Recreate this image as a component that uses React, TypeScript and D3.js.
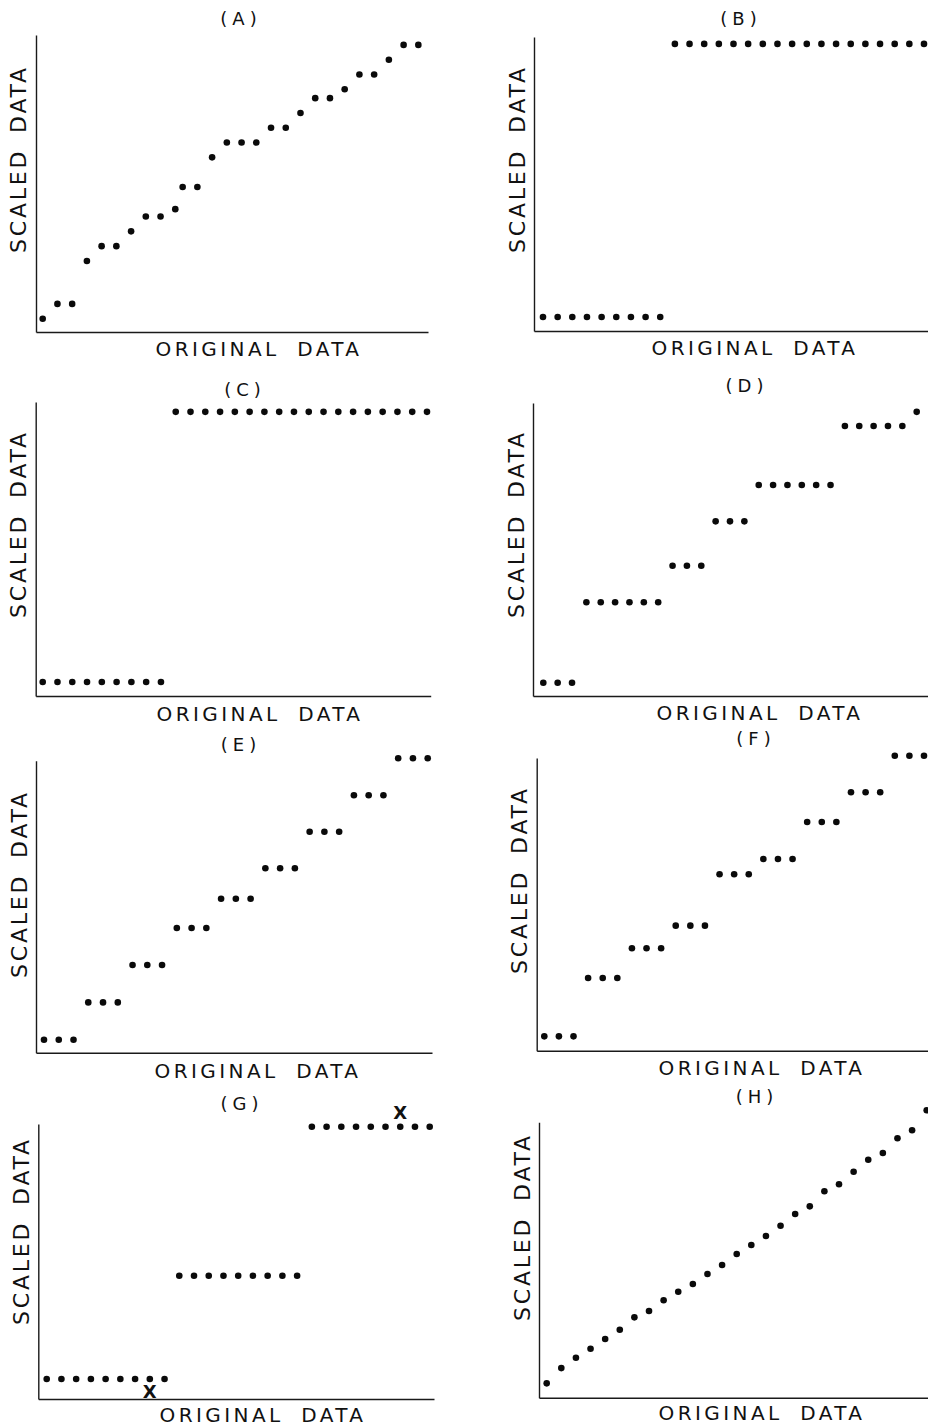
import { useEffect, useRef } from "react";
import * as d3 from "d3";

// original data rank (x) for panels B..H, and the slightly shifted ranks of panel A
const rank = [0, 1, 2, 3, 4, 5, 6, 7, 8, 9, 10, 11, 12, 13, 14, 15, 16, 17, 18, 19, 20, 21, 22, 23, 24, 25, 26];
const rankA = [0, 1, 2, 3, 4, 5, 6, 7, 8, 9, 9.5, 10.5, 11.5, 12.5, 13.5, 14.5, 15.5, 16.5, 17.5, 18.5, 19.5, 20.5, 21.5, 22.5, 23.5, 24.5, 25.5];

// scaled data (y)
const scaledA = [0.9, 1.9, 1.9, 4.8, 5.8, 5.8, 6.8, 7.8, 7.8, 8.3, 9.8, 9.8, 11.8, 12.8, 12.8, 12.8, 13.8, 13.8, 14.8, 15.8, 15.8, 16.4, 17.4, 17.4, 18.4, 19.4, 19.4];
const scaledB = [0.95, 0.95, 0.95, 0.95, 0.95, 0.95, 0.95, 0.95, 0.95, 19.4, 19.4, 19.4, 19.4, 19.4, 19.4, 19.4, 19.4, 19.4, 19.4, 19.4, 19.4, 19.4, 19.4, 19.4, 19.4, 19.4, 19.4];
const scaledC = [0.95, 0.95, 0.95, 0.95, 0.95, 0.95, 0.95, 0.95, 0.95, 19.2, 19.2, 19.2, 19.2, 19.2, 19.2, 19.2, 19.2, 19.2, 19.2, 19.2, 19.2, 19.2, 19.2, 19.2, 19.2, 19.2, 19.2];
const scaledD = [0.9, 0.9, 0.9, 6.33, 6.33, 6.33, 6.33, 6.33, 6.33, 8.8, 8.8, 8.8, 11.8, 11.8, 11.8, 14.26, 14.26, 14.26, 14.26, 14.26, 14.26, 18.24, 18.24, 18.24, 18.24, 18.24, 19.2];
const scaledE = [0.88, 0.88, 0.88, 3.4, 3.4, 3.4, 5.93, 5.93, 5.93, 8.43, 8.43, 8.43, 10.4, 10.4, 10.4, 12.46, 12.46, 12.46, 14.93, 14.93, 14.93, 17.4, 17.4, 17.4, 19.9, 19.9, 19.9];
const scaledF = [0.97, 0.97, 0.97, 4.91, 4.91, 4.91, 6.92, 6.92, 6.92, 8.45, 8.45, 8.45, 11.92, 11.92, 11.92, 12.95, 12.95, 12.95, 15.45, 15.45, 15.45, 17.46, 17.46, 17.46, 19.93, 19.93, 19.93];
const scaledG = [1.35, 1.35, 1.35, 1.35, 1.35, 1.35, 1.35, 1.35, 1.35, 8.33, 8.33, 8.33, 8.33, 8.33, 8.33, 8.33, 8.33, 8.33, 18.4, 18.4, 18.4, 18.4, 18.4, 18.4, 18.4, 18.4, 18.4];
const scaledH = [0.97, 2.0, 2.7, 3.31, 3.97, 4.59, 5.43, 5.86, 6.58, 7.16, 7.68, 8.36, 8.97, 9.71, 10.32, 10.93, 11.62, 12.41, 12.93, 13.95, 14.42, 15.27, 16.08, 16.53, 17.53, 18.07, 19.42];

// panel G: points flagged with an "X"
const markedG = [7, 24];
const markSideG = ["below", "above"];

const panelTitles = ["(A)", "(B)", "(C)", "(D)", "(E)", "(F)", "(G)", "(H)"];
const xTitle = "ORIGINAL DATA";
const yTitle = "SCALED DATA";

const W = 928;
const H = 1428;
const UNIT = 14.8; // px per scaled-data unit
const FONT = "'DejaVu Sans', Verdana, sans-serif";

// layout of each panel (pixel positions only)
const layouts = [
    { left: 36, top: 35, bottom: 332, right: 428, x0: 42.7, x1: 425.7, tx: 239, ty: 25, lx: 257, ly: 356, yx: 18, yy: 159 },
    { left: 534, top: 37, bottom: 331, right: 930, x0: 543, x1: 924, tx: 739, ty: 25, lx: 753, ly: 355, yx: 517, yy: 159 },
    { left: 35.7, top: 402, bottom: 696, right: 430.7, x0: 42.7, x1: 427, tx: 243, ty: 396, lx: 258, ly: 721, yx: 18, yy: 524 },
    { left: 533, top: 403, bottom: 696, right: 930, x0: 543.3, x1: 916.7, tx: 745, ty: 392, lx: 758, ly: 720, yx: 516, yy: 524 },
    { left: 36, top: 760.7, bottom: 1052.7, right: 432, x0: 44, x1: 427.7, tx: 239, ty: 751, lx: 256, ly: 1078, yx: 19, yy: 884 },
    { left: 536.7, top: 758, bottom: 1050.7, right: 930, x0: 544.3, x1: 924, tx: 754, ty: 745, lx: 760, ly: 1075, yx: 519, yy: 880 },
    { left: 38.3, top: 1124, bottom: 1399, right: 434, x0: 46.7, x1: 429.7, tx: 240, ty: 1110, lx: 261, ly: 1422, yx: 21, yy: 1231 },
    { left: 539, top: 1122.3, bottom: 1397.7, right: 930, x0: 546.7, x1: 926.7, tx: 755, ty: 1103, lx: 760, ly: 1420, yx: 522, yy: 1227 },
];

const series = [
    { x: rankA, y: scaledA },
    { x: rank, y: scaledB },
    { x: rank, y: scaledC },
    { x: rank, y: scaledD },
    { x: rank, y: scaledE },
    { x: rank, y: scaledF },
    { x: rank, y: scaledG },
    { x: rank, y: scaledH },
];

export default function App() {
    const svgRef = useRef<SVGSVGElement>(null);

    useEffect(() => {
        const svg = d3.select(svgRef.current);
        svg.selectAll("*").remove();

        svg.append("rect").attr("width", W).attr("height", H).attr("fill", "#ffffff");

        layouts.forEach((lay, p) => {
            const g = svg.append("g").attr("class", "panel");
            const { x, y } = series[p];

            const xScale = d3.scaleLinear().domain([0, 26]).range([lay.x0, lay.x1]);
            const yScale = d3.scaleLinear().domain([0, 20]).range([lay.bottom, lay.bottom - 20 * UNIT]);

            // axis frames (no ticks in the original)
            const xFrame = d3.scaleLinear().domain([0, 1]).range([lay.left, lay.right]);
            const yFrame = d3.scaleLinear().domain([0, 1]).range([lay.bottom, lay.top]);

            g.append("g")
                .attr("transform", `translate(0,${lay.bottom})`)
                .call(d3.axisBottom(xFrame).tickValues([]).tickSizeOuter(0))
                .select(".domain")
                .attr("stroke", "#1a1a1a")
                .attr("stroke-width", 1.6);

            g.append("g")
                .attr("transform", `translate(${lay.left},0)`)
                .call(d3.axisLeft(yFrame).tickValues([]).tickSizeOuter(0))
                .select(".domain")
                .attr("stroke", "#1a1a1a")
                .attr("stroke-width", 1.4);

            g.selectAll(".dot")
                .data(y)
                .join("circle")
                .attr("class", "dot")
                .attr("cx", (d, i) => xScale(x[i]))
                .attr("cy", (d) => yScale(d))
                .attr("r", 3.3)
                .attr("fill", "#0a0a0a");

            // titles
            g.append("text")
                .attr("x", lay.tx + 2)
                .attr("y", lay.ty)
                .attr("text-anchor", "middle")
                .style("font-family", FONT)
                .style("font-size", "18px")
                .style("letter-spacing", "5px")
                .attr("fill", "#111")
                .text(panelTitles[p]);

            g.append("text")
                .attr("x", lay.lx + 2)
                .attr("y", lay.ly)
                .attr("text-anchor", "middle")
                .style("font-family", FONT)
                .style("font-size", "20px")
                .style("letter-spacing", "3.4px")
                .style("word-spacing", "8px")
                .attr("fill", "#111")
                .text(xTitle);

            g.append("text")
                .attr("transform", `translate(${lay.yx},${lay.yy}) rotate(-90)`)
                .attr("text-anchor", "middle")
                .attr("dominant-baseline", "central")
                .style("font-family", FONT)
                .style("font-size", "22px")
                .style("letter-spacing", "2.8px")
                .style("word-spacing", "6px")
                .attr("fill", "#111")
                .text(yTitle);

            if (p === 6) {
                g.selectAll(".mark")
                    .data(markedG)
                    .join("text")
                    .attr("class", "mark")
                    .attr("x", (d) => xScale(x[d]))
                    .attr("y", (d, i) => yScale(y[d]) + (markSideG[i] === "above" ? -14 : 12))
                    .attr("text-anchor", "middle")
                    .attr("dominant-baseline", "central")
                    .style("font-family", FONT)
                    .style("font-size", "18px")
                    .style("font-weight", "bold")
                    .attr("fill", "#111")
                    .text("X");
            }
        });
    }, []);

    return (
        <svg
            ref={svgRef}
            width={W}
            height={H}
            style={{ position: "absolute", left: 0, top: 0, display: "block" }}
        ></svg>
    );
}
